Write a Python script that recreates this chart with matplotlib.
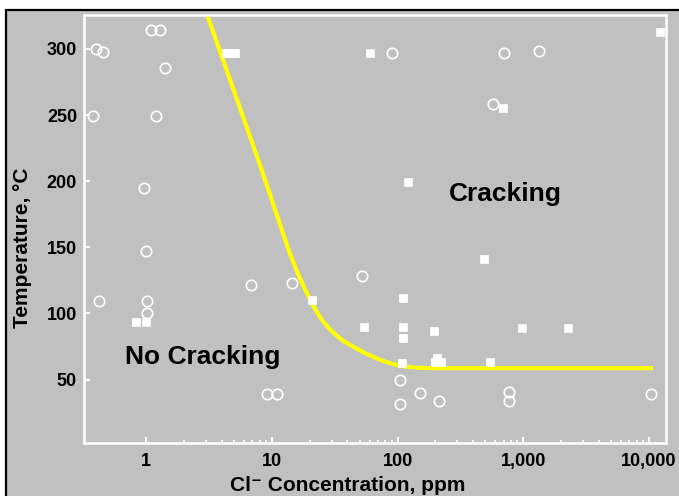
import matplotlib
matplotlib.use('Agg')
import matplotlib.pyplot as plt
from matplotlib.patches import Rectangle
from matplotlib.ticker import FixedLocator, NullFormatter

plt.rcParams['font.family'] = ['Liberation Sans', 'DejaVu Sans']
plt.rcParams['font.weight'] = 'bold'

# open circles: no cracking observed
circ_ppm = [0.40, 0.45, 1.10, 1.29, 1.42, 0.376, 1.20, 0.96, 1.0, 0.42, 1.02, 1.02,
            6.8, 14.4, 9.1, 11.0, 52, 104, 104, 150, 213, 766, 766, 10400,
            90, 703, 1343, 571]
circ_T = [300, 297.5, 314.6, 314.6, 285.6, 249.2, 249.2, 194.8, 147.5, 109.1, 109.4, 100.4,
          121.5, 122.7, 38.9, 38.9, 128.5, 50, 31.6, 40.0, 33.4, 40.7, 33.9, 38.9,
          297.2, 297.2, 298.7, 258.2]
# filled squares: cracking observed
sq_ppm = [4.3, 4.7, 5.1, 60, 12170, 695, 120.6, 0.83, 1.0, 20.9, 487, 111.4, 54.5,
          111.4, 111.4, 194.5, 978, 2275, 108, 200, 205, 220, 544]
sq_T = [297, 297, 297, 296.7, 312.6, 255.2, 199, 93.3, 93.3, 110.4, 140.9, 111.9, 90.0,
        90.0, 81.5, 86.8, 88.9, 88.9, 62.6, 63, 66.4, 63, 63.1]
# threshold curve
curve_ppm = [3.05, 8, 13.6, 14.5, 15.5, 16.5, 18, 20, 22.5, 25.5, 29, 33, 38, 45, 55,
             67, 80, 95, 115, 140, 180, 10800]
curve_T = [326, 213, 148, 141, 134, 128, 120, 111, 102, 94, 88, 83, 78.5, 74.5, 70,
           66.3, 63.5, 61.3, 59.8, 59, 58.6, 58.6]

xticks = [1, 10, 100, 1000, 10000]
xticklabels = ['1', '10', '100', '1,000', '10,000']
yticks = [50, 100, 150, 200, 250, 300]

gray = '#c0c0c0'
fig = plt.figure(figsize=(6.79, 4.96), dpi=100, facecolor='white')
fig.patches.append(Rectangle((6/679, -0.1), 1.2, 1.1 - 10/496, transform=fig.transFigure,
                             facecolor=gray, edgecolor='black', lw=1.6, zorder=-5))
ax = fig.add_axes([84/679, 1-443/496, (666-84)/679, (443-14.5)/496])
ax.set_facecolor(gray)
ax.set_xscale('log')
ax.set_xlim(0.32, 13700)
ax.set_ylim(2, 326)

ax.plot(curve_ppm, curve_T, color='#ffff00', lw=3, solid_capstyle='butt',
        solid_joinstyle='round', zorder=2)
ax.plot(circ_ppm, circ_T, 'o', ms=7.5, mfc='none', mec='white', mew=1.2, zorder=3)
ax.plot(sq_ppm, sq_T, 's', ms=5.5, mfc='white', mec='white', mew=0.5, zorder=3)

for s in ax.spines.values():
    s.set_color('white')
    s.set_linewidth(1.8)

ax.xaxis.set_major_locator(FixedLocator(xticks))
ax.set_xticklabels(xticklabels)
minors = [m * 10**k for k in range(0, 4) for m in range(2, 10)]
ax.xaxis.set_minor_locator(FixedLocator(minors))
ax.xaxis.set_minor_formatter(NullFormatter())
ax.set_yticks(yticks)
ax.tick_params(which='major', direction='in', color='white', length=4, width=1.5,
               labelsize=13, pad=7)
ax.tick_params(which='minor', direction='in', color='white', length=2.5, width=1.2)
ax.tick_params(axis='y', pad=5)
for lab in ax.get_xticklabels() + ax.get_yticklabels():
    lab.set_fontweight('bold')

ax.text(10**2.86, 190.5, 'Cracking', fontsize=19, fontweight='bold', ha='center', va='center')
ax.text(10**0.45, 67, 'No Cracking', fontsize=19, fontweight='bold', ha='center', va='center')

fig.text(347.5/679, 1-491/496, 'Cl\u207b Concentration, ppm', fontsize=15,
         fontweight='bold', ha='center', va='baseline')
fig.text(22/679, 0.5 + 0.0, 'Temperature, °C', fontsize=15, fontweight='bold',
         rotation=90, ha='center', va='center')

fig.savefig('out.png', dpi=100, facecolor=fig.get_facecolor())
